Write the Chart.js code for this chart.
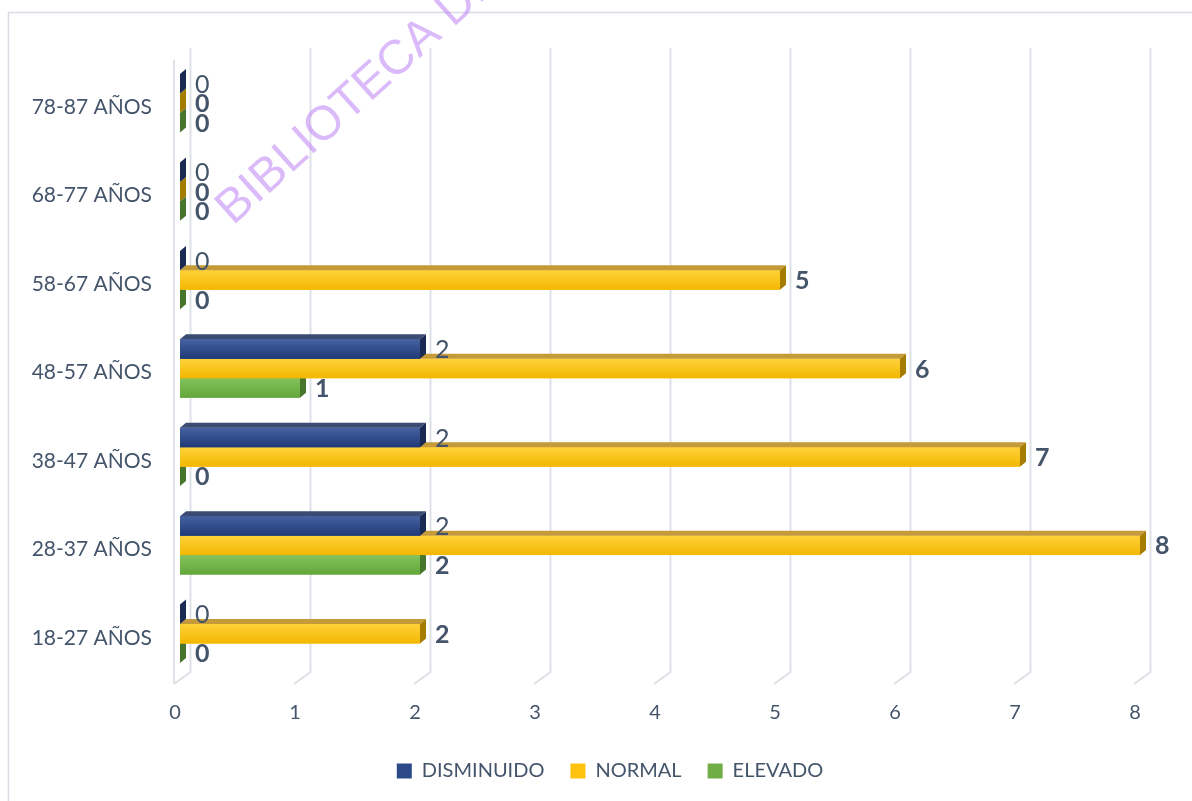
<!DOCTYPE html>
<html>
<head>
<meta charset="utf-8">
<script src="https://cdn.jsdelivr.net/npm/chart.js@4.4.1/dist/chart.umd.min.js"></script>
<style>
  html, body { margin: 0; padding: 0; background: #fff; }
  #wrap { position: relative; width: 1192px; height: 801px; }
</style>
</head>
<body>
<div id="wrap"><canvas id="presionChart"></canvas></div>
<script>
// Datos: presión arterial por grupo de edad
const categorias = ["78-87 AÑOS", "68-77 AÑOS", "58-67 AÑOS", "48-57 AÑOS", "38-47 AÑOS", "28-37 AÑOS", "18-27 AÑOS"];
const disminuido = [0, 0, 0, 2, 2, 2, 0];
const normal = [0, 0, 5, 6, 7, 8, 2];
const elevado = [0, 0, 0, 1, 0, 2, 0];
const ticksX = [0, 1, 2, 3, 4, 5, 6, 7, 8];

const TEXTO = "#44546a";
const FUENTE = "Lato, 'Open Sans', sans-serif";

// colores de cada cara de la barra 3D
const estilos = [
  { solido: "#2c4a88", frente: ["#4562a2", "#1e3a76"], arriba: "#3c4b72", lado: "#1a2a52", negrita: false },
  { solido: "#ffc20e", frente: ["#ffd23a", "#f2b700"], arriba: "#c59a38", lado: "#a47c00", negrita: true },
  { solido: "#70ad47", frente: ["#84c25c", "#62a73a"], arriba: "#5b8b3b", lado: "#47752b", negrita: true },
];

// profundidad de barras
const PX = 6, PY = -5;

// marco y marca de agua
const marco = {
  id: "marco",
  beforeDraw(chart) {
    const ctx = chart.ctx;
    ctx.save();
    ctx.strokeStyle = "#d9dce4";
    ctx.lineWidth = 1.5;
    ctx.beginPath();
    ctx.moveTo(8.5, 801);
    ctx.lineTo(8.5, 12.5);
    ctx.lineTo(1192, 12.5);
    ctx.stroke();
    ctx.restore();
  },
  afterDraw(chart) {
    const ctx = chart.ctx;
    ctx.save();
    ctx.translate(233, 226);
    ctx.rotate(-42 * Math.PI / 180);
    ctx.font = "48px 'Liberation Sans', Arial, sans-serif";
    ctx.fillStyle = "rgba(190, 130, 245, 0.55)";
    ctx.textBaseline = "alphabetic";
    ctx.fillText("BIBLIOTECA DIGITAL", 0, 0);
    ctx.restore();
  },
};

// paredes y líneas de división en perspectiva
const paredes = {
  id: "paredes",
  beforeDatasetsDraw(chart) {
    const { ctx, chartArea, scales } = chart;
    const xs = scales.x;
    const arriba = chartArea.top - 11, fondo = chartArea.bottom - 6, frente = chartArea.bottom + 6;
    ctx.save();
    ctx.strokeStyle = "#dfe1e9";
    ctx.lineWidth = 2;
    ticksX.forEach(v => {
      const p = xs.getPixelForValue(v);
      ctx.beginPath();
      ctx.moveTo(p + 10.5, arriba);
      ctx.lineTo(p + 10.5, fondo);
      ctx.lineTo(p - 6, frente);
      ctx.stroke();
    });
    const p0 = xs.getPixelForValue(0) - 6;
    ctx.beginPath();
    ctx.moveTo(p0, chartArea.top + 1);
    ctx.lineTo(p0, frente);
    ctx.stroke();
    ctx.restore();
  },
};

// caras frontal, superior y lateral de cada barra, y sus etiquetas
const barras3d = {
  id: "barras3d",
  afterDatasetDraw(chart, args) {
    const ctx = chart.ctx;
    const est = estilos[args.index];
    ctx.save();
    args.meta.data.forEach(bar => {
      const { x, y, base, height } = bar.getProps(["x", "y", "base", "height"], true);
      const sup = y - height / 2, inf = y + height / 2;
      if (x - base > 0.5) {
        const g = ctx.createLinearGradient(0, sup, 0, inf);
        g.addColorStop(0, est.frente[0]);
        g.addColorStop(1, est.frente[1]);
        ctx.fillStyle = g;
        ctx.fillRect(base, sup, x - base, height);
        ctx.fillStyle = est.arriba;
        ctx.beginPath();
        ctx.moveTo(base, sup);
        ctx.lineTo(base + PX, sup + PY);
        ctx.lineTo(x + PX, sup + PY);
        ctx.lineTo(x, sup);
        ctx.closePath();
        ctx.fill();
      }
      ctx.fillStyle = est.lado;
      ctx.beginPath();
      ctx.moveTo(x, sup);
      ctx.lineTo(x + PX, sup + PY);
      ctx.lineTo(x + PX, inf + PY);
      ctx.lineTo(x, inf);
      ctx.closePath();
      ctx.fill();
    });
    ctx.restore();
  },
  afterDatasetsDraw(chart) {
    const ctx = chart.ctx;
    ctx.save();
    ctx.fillStyle = TEXTO;
    ctx.textAlign = "left";
    ctx.textBaseline = "middle";
    chart.data.datasets.forEach((ds, i) => {
      const meta = chart.getDatasetMeta(i);
      ctx.font = (estilos[i].negrita ? "bold " : "") + "25px " + FUENTE;
      meta.data.forEach((bar, j) => {
        const { x, y } = bar.getProps(["x", "y"], true);
        ctx.fillText(String(ds.data[j]), x + 15, y + 1);
      });
    });
    ctx.restore();
  },
};

// leyenda más compacta en vertical y centrada en todo el ancho
const ajusteLeyenda = {
  id: "ajusteLeyenda",
  beforeInit(chart) {
    const fit = chart.legend.fit;
    chart.legend.fit = function () {
      fit.bind(chart.legend)();
      this.height = 62;
    };
  },
  afterLayout(chart) {
    chart.legend.left += 40;
    chart.legend.right += 40;
  },
};

const ctxPresion = document.getElementById("presionChart");
new Chart(ctxPresion.getContext("2d"), {
  type: "bar",
  data: {
    labels: categorias,
    datasets: [
      { label: "DISMINUIDO", data: disminuido, backgroundColor: estilos[0].solido },
      { label: "NORMAL", data: normal, backgroundColor: estilos[1].solido },
      { label: "ELEVADO", data: elevado, backgroundColor: estilos[2].solido },
    ],
  },
  options: {
    indexAxis: "y",
    responsive: true,
    maintainAspectRatio: false,
    animation: false,
    layout: { padding: { left: 0, right: 52, top: 59, bottom: 4 } },
    datasets: {
      bar: { categoryPercentage: 0.66, barPercentage: 1 },
    },
    plugins: {
      tooltip: { enabled: false },
      legend: {
        position: "bottom",
        labels: {
          boxWidth: 15,
          boxHeight: 15,
          padding: 26,
          color: TEXTO,
          font: { family: FUENTE, size: 20 },
        },
      },
    },
    scales: {
      x: {
        min: 0,
        max: 8,
        grid: { display: false, drawTicks: false },
        border: { display: false },
        afterBuildTicks: s => { s.ticks = ticksX.map(v => ({ value: v })); },
        afterFit: s => { s.height = 57; },
        ticks: {
          padding: 23,
          labelOffset: -5,
          color: TEXTO,
          font: { family: FUENTE, size: 20 },
        },
      },
      y: {
        grid: { display: false, drawTicks: false },
        border: { display: false },
        afterFit: s => { s.width = 180; },
        ticks: {
          padding: 28,
          labelOffset: 4,
          color: TEXTO,
          font: { family: FUENTE, size: 21 },
        },
      },
    },
  },
  plugins: [marco, paredes, barras3d, ajusteLeyenda],
});
</script>
</body>
</html>
